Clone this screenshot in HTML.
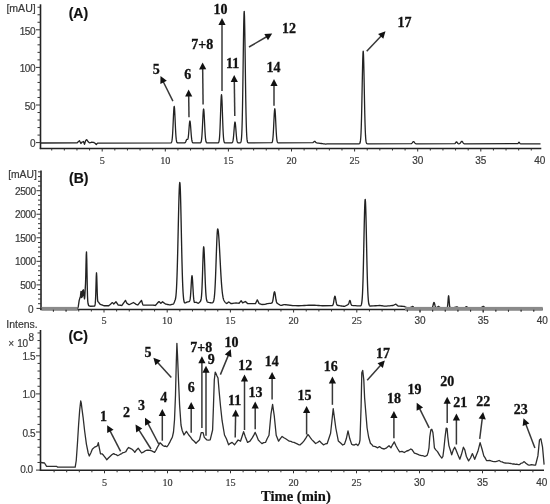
<!DOCTYPE html>
<html><head><meta charset="utf-8"><style>
html,body{margin:0;padding:0;background:#fff;width:550px;height:504px;overflow:hidden}
svg{display:block;filter:blur(0.35px)}
</style></head><body>
<svg width="550" height="504" viewBox="0 0 550 504">
<rect width="550" height="504" fill="#fff"/>
<line x1="40.5" y1="4.3" x2="40.5" y2="149.1" stroke="#222" stroke-width="1.6"/>
<line x1="39.8" y1="148.5" x2="541.3" y2="148.5" stroke="#222" stroke-width="1.5"/>
<line x1="37.5" y1="135.08" x2="40.5" y2="135.08" stroke="#333" stroke-width="1.0"/>
<line x1="37.5" y1="127.56" x2="40.5" y2="127.56" stroke="#333" stroke-width="1.0"/>
<line x1="37.5" y1="120.04" x2="40.5" y2="120.04" stroke="#333" stroke-width="1.0"/>
<line x1="37.5" y1="112.52" x2="40.5" y2="112.52" stroke="#333" stroke-width="1.0"/>
<line x1="37.5" y1="97.48" x2="40.5" y2="97.48" stroke="#333" stroke-width="1.0"/>
<line x1="37.5" y1="89.96" x2="40.5" y2="89.96" stroke="#333" stroke-width="1.0"/>
<line x1="37.5" y1="82.44" x2="40.5" y2="82.44" stroke="#333" stroke-width="1.0"/>
<line x1="37.5" y1="74.92" x2="40.5" y2="74.92" stroke="#333" stroke-width="1.0"/>
<line x1="37.5" y1="59.88" x2="40.5" y2="59.88" stroke="#333" stroke-width="1.0"/>
<line x1="37.5" y1="52.36" x2="40.5" y2="52.36" stroke="#333" stroke-width="1.0"/>
<line x1="37.5" y1="44.84" x2="40.5" y2="44.84" stroke="#333" stroke-width="1.0"/>
<line x1="37.5" y1="37.32" x2="40.5" y2="37.32" stroke="#333" stroke-width="1.0"/>
<line x1="37.5" y1="22.28" x2="40.5" y2="22.28" stroke="#333" stroke-width="1.0"/>
<line x1="37.5" y1="14.76" x2="40.5" y2="14.76" stroke="#333" stroke-width="1.0"/>
<line x1="37.5" y1="7.24" x2="40.5" y2="7.24" stroke="#333" stroke-width="1.0"/>
<line x1="36" y1="142.6" x2="40.5" y2="142.6" stroke="#333" stroke-width="1.0"/>
<line x1="36" y1="105" x2="40.5" y2="105" stroke="#333" stroke-width="1.0"/>
<line x1="36" y1="67.4" x2="40.5" y2="67.4" stroke="#333" stroke-width="1.0"/>
<line x1="36" y1="29.8" x2="40.5" y2="29.8" stroke="#333" stroke-width="1.0"/>
<text x="35" y="147.4" font-family="&quot;Liberation Sans&quot;, sans-serif" font-size="10" font-weight="normal" text-anchor="end" fill="#3a3a3a" stroke="#3a3a3a" stroke-width="0.2" letter-spacing="-0.45">0</text>
<text x="35" y="109.8" font-family="&quot;Liberation Sans&quot;, sans-serif" font-size="10" font-weight="normal" text-anchor="end" fill="#3a3a3a" stroke="#3a3a3a" stroke-width="0.2" letter-spacing="-0.45">50</text>
<text x="35" y="72.2" font-family="&quot;Liberation Sans&quot;, sans-serif" font-size="10" font-weight="normal" text-anchor="end" fill="#3a3a3a" stroke="#3a3a3a" stroke-width="0.2" letter-spacing="-0.45">100</text>
<text x="35" y="34.6" font-family="&quot;Liberation Sans&quot;, sans-serif" font-size="10" font-weight="normal" text-anchor="end" fill="#3a3a3a" stroke="#3a3a3a" stroke-width="0.2" letter-spacing="-0.45">150</text>
<line x1="51.72" y1="148.5" x2="51.72" y2="150.5" stroke="#333" stroke-width="1.0"/>
<line x1="64.34" y1="148.5" x2="64.34" y2="150.5" stroke="#333" stroke-width="1.0"/>
<line x1="76.96" y1="148.5" x2="76.96" y2="150.5" stroke="#333" stroke-width="1.0"/>
<line x1="89.58" y1="148.5" x2="89.58" y2="150.5" stroke="#333" stroke-width="1.0"/>
<line x1="102.2" y1="148.5" x2="102.2" y2="151.5" stroke="#333" stroke-width="1.0"/>
<line x1="114.82" y1="148.5" x2="114.82" y2="150.5" stroke="#333" stroke-width="1.0"/>
<line x1="127.44" y1="148.5" x2="127.44" y2="150.5" stroke="#333" stroke-width="1.0"/>
<line x1="140.06" y1="148.5" x2="140.06" y2="150.5" stroke="#333" stroke-width="1.0"/>
<line x1="152.68" y1="148.5" x2="152.68" y2="150.5" stroke="#333" stroke-width="1.0"/>
<line x1="165.3" y1="148.5" x2="165.3" y2="151.5" stroke="#333" stroke-width="1.0"/>
<line x1="177.92" y1="148.5" x2="177.92" y2="150.5" stroke="#333" stroke-width="1.0"/>
<line x1="190.54" y1="148.5" x2="190.54" y2="150.5" stroke="#333" stroke-width="1.0"/>
<line x1="203.16" y1="148.5" x2="203.16" y2="150.5" stroke="#333" stroke-width="1.0"/>
<line x1="215.78" y1="148.5" x2="215.78" y2="150.5" stroke="#333" stroke-width="1.0"/>
<line x1="228.4" y1="148.5" x2="228.4" y2="151.5" stroke="#333" stroke-width="1.0"/>
<line x1="241.02" y1="148.5" x2="241.02" y2="150.5" stroke="#333" stroke-width="1.0"/>
<line x1="253.64" y1="148.5" x2="253.64" y2="150.5" stroke="#333" stroke-width="1.0"/>
<line x1="266.26" y1="148.5" x2="266.26" y2="150.5" stroke="#333" stroke-width="1.0"/>
<line x1="278.88" y1="148.5" x2="278.88" y2="150.5" stroke="#333" stroke-width="1.0"/>
<line x1="291.5" y1="148.5" x2="291.5" y2="151.5" stroke="#333" stroke-width="1.0"/>
<line x1="304.12" y1="148.5" x2="304.12" y2="150.5" stroke="#333" stroke-width="1.0"/>
<line x1="316.74" y1="148.5" x2="316.74" y2="150.5" stroke="#333" stroke-width="1.0"/>
<line x1="329.36" y1="148.5" x2="329.36" y2="150.5" stroke="#333" stroke-width="1.0"/>
<line x1="341.98" y1="148.5" x2="341.98" y2="150.5" stroke="#333" stroke-width="1.0"/>
<line x1="354.6" y1="148.5" x2="354.6" y2="151.5" stroke="#333" stroke-width="1.0"/>
<line x1="367.22" y1="148.5" x2="367.22" y2="150.5" stroke="#333" stroke-width="1.0"/>
<line x1="379.84" y1="148.5" x2="379.84" y2="150.5" stroke="#333" stroke-width="1.0"/>
<line x1="392.46" y1="148.5" x2="392.46" y2="150.5" stroke="#333" stroke-width="1.0"/>
<line x1="405.08" y1="148.5" x2="405.08" y2="150.5" stroke="#333" stroke-width="1.0"/>
<line x1="417.7" y1="148.5" x2="417.7" y2="151.5" stroke="#333" stroke-width="1.0"/>
<line x1="430.32" y1="148.5" x2="430.32" y2="150.5" stroke="#333" stroke-width="1.0"/>
<line x1="442.94" y1="148.5" x2="442.94" y2="150.5" stroke="#333" stroke-width="1.0"/>
<line x1="455.56" y1="148.5" x2="455.56" y2="150.5" stroke="#333" stroke-width="1.0"/>
<line x1="468.18" y1="148.5" x2="468.18" y2="150.5" stroke="#333" stroke-width="1.0"/>
<line x1="480.8" y1="148.5" x2="480.8" y2="151.5" stroke="#333" stroke-width="1.0"/>
<line x1="493.42" y1="148.5" x2="493.42" y2="150.5" stroke="#333" stroke-width="1.0"/>
<line x1="506.04" y1="148.5" x2="506.04" y2="150.5" stroke="#333" stroke-width="1.0"/>
<line x1="518.66" y1="148.5" x2="518.66" y2="150.5" stroke="#333" stroke-width="1.0"/>
<line x1="531.28" y1="148.5" x2="531.28" y2="150.5" stroke="#333" stroke-width="1.0"/>
<text x="102.2" y="163.7" font-family="&quot;Liberation Serif&quot;, sans-serif" font-size="10.2" font-weight="normal" text-anchor="middle" fill="#3a3a3a" stroke="#3a3a3a" stroke-width="0.2" >5</text>
<text x="165.3" y="163.7" font-family="&quot;Liberation Serif&quot;, sans-serif" font-size="10.2" font-weight="normal" text-anchor="middle" fill="#3a3a3a" stroke="#3a3a3a" stroke-width="0.2" >10</text>
<text x="228.4" y="163.7" font-family="&quot;Liberation Serif&quot;, sans-serif" font-size="10.2" font-weight="normal" text-anchor="middle" fill="#3a3a3a" stroke="#3a3a3a" stroke-width="0.2" >15</text>
<text x="291.5" y="163.7" font-family="&quot;Liberation Serif&quot;, sans-serif" font-size="10.2" font-weight="normal" text-anchor="middle" fill="#3a3a3a" stroke="#3a3a3a" stroke-width="0.2" >20</text>
<text x="354.6" y="163.7" font-family="&quot;Liberation Serif&quot;, sans-serif" font-size="10.2" font-weight="normal" text-anchor="middle" fill="#3a3a3a" stroke="#3a3a3a" stroke-width="0.2" >25</text>
<text x="417.7" y="163.7" font-family="&quot;Liberation Sans&quot;, sans-serif" font-size="10" font-weight="normal" text-anchor="middle" fill="#3a3a3a" stroke="#3a3a3a" stroke-width="0.2" >30</text>
<text x="480.8" y="163.7" font-family="&quot;Liberation Sans&quot;, sans-serif" font-size="10" font-weight="normal" text-anchor="middle" fill="#3a3a3a" stroke="#3a3a3a" stroke-width="0.2" >35</text>
<text x="539.8" y="163.7" font-family="&quot;Liberation Sans&quot;, sans-serif" font-size="10" font-weight="normal" text-anchor="middle" fill="#3a3a3a" stroke="#3a3a3a" stroke-width="0.2" >40</text>
<text x="6.4" y="12.4" font-family="&quot;Liberation Sans&quot;, sans-serif" font-size="10" font-weight="normal" text-anchor="start" fill="#3a3a3a" stroke="#3a3a3a" stroke-width="0.2" textLength="29.3" lengthAdjust="spacingAndGlyphs">[mAU]</text>
<text x="78.4" y="18" font-family="&quot;Liberation Sans&quot;, sans-serif" font-size="14" font-weight="bold" text-anchor="middle" fill="#111" stroke="#111" stroke-width="0.2" >(A)</text>
<path d="M41 143 L77 142.91 L77.25 142.69 L77.5 142.47 L77.75 142.25 L78 142.03 L78.25 141.81 L78.5 141.58 L78.75 141.36 L79 141.14 L79.25 140.92 L79.5 140.7 L79.75 141.22 L80 141.74 L80.25 142.25 L80.5 142.77 L80.75 143.29 L81 143.47 L81.25 143.15 L81.5 142.84 L81.75 142.52 L82 142.2 L82.5 141.97 L83 141.73 L83.5 141.5 L83.75 142.22 L84 142.95 L84.25 143.68 L84.5 144.4 L84.75 143.56 L85 142.72 L85.25 141.88 L85.5 141.04 L85.75 140.55 L86 140.3 L86.25 140.05 L86.5 139.8 L86.75 139.67 L87 140.04 L87.25 140.41 L87.5 140.77 L87.75 141.14 L88 141.51 L88.25 141.84 L88.5 142.04 L88.75 142.23 L89 142.43 L89.25 142.62 L89.5 142.82 L90.25 142.69 L90.75 142.53 L91.25 142.38 L91.75 142.22 L93 142.36 L94 142.5 L94.25 142.68 L94.5 142.87 L94.75 143.05 L95 143.23 L95.25 143.42 L95.5 143.6 L95.75 143.99 L96 144.39 L96.25 144.64 L96.5 144.32 L96.75 144 L97 143.68 L97.25 143.36 L97.75 143.19 L98.25 143.06 L170.75 142.91 L171 142.84 L171.25 142.67 L171.5 142.32 L171.75 141.65 L172 140.45 L172.25 138.5 L172.5 135.57 L172.75 131.53 L173 126.45 L173.25 120.73 L173.5 115.02 L173.75 110.19 L174 107.1 L174.2 106.3 L174.25 106.35 L174.5 108.08 L174.75 111.96 L175 117.24 L175.25 123.06 L175.5 128.59 L175.75 133.28 L176 136.87 L176.25 139.39 L176.5 141.01 L176.75 141.96 L177 142.48 L177.25 142.75 L177.5 142.87 L185 142.75 L185.25 142.54 L185.5 142.21 L185.75 141.73 L186 141.12 L186.25 140.46 L186.5 139.87 L186.75 139.47 L186.9 139.35 L187.5 139.44 L187.75 139.29 L188 138.64 L188.25 137.27 L188.5 135.08 L188.75 132.17 L189 128.83 L189.25 125.54 L189.5 122.84 L189.75 121.27 L189.9 121 L190 121.12 L190.25 122.44 L190.5 124.97 L190.75 128.24 L191 131.72 L191.25 134.96 L191.5 137.64 L191.75 139.66 L192 141.05 L192.25 141.92 L192.5 142.43 L192.75 142.71 L193 142.85 L200.5 142.78 L200.75 142.57 L201 142.15 L201.25 141.36 L201.5 140 L201.75 137.85 L202 134.73 L202.25 130.58 L202.5 125.58 L202.75 120.2 L203 115.14 L203.25 111.23 L203.5 109.19 L203.6 109 L203.75 109.42 L204 111.88 L204.25 116.08 L204.5 121.27 L204.75 126.63 L205 131.49 L205.25 135.43 L205.5 138.35 L205.75 140.32 L206 141.55 L206.25 142.25 L206.5 142.62 L206.75 142.81 L207.5 142.94 L218.25 142.8 L218.5 142.61 L218.75 142.21 L219 141.42 L219.25 140.01 L219.5 137.67 L219.75 134.08 L220 129.04 L220.25 122.6 L220.5 115.16 L220.75 107.54 L221 100.85 L221.25 96.25 L221.5 94.6 L221.75 96.25 L222 100.85 L222.25 107.54 L222.5 115.16 L222.75 122.6 L223 129.04 L223.25 134.08 L223.5 137.67 L223.75 140.01 L224 141.42 L224.25 142.21 L224.5 142.61 L224.75 142.8 L225.5 142.93 L232 142.79 L232.25 142.62 L232.5 142.28 L232.75 141.67 L233 140.65 L233.25 139.1 L233.5 136.92 L233.75 134.13 L234 130.9 L234.25 127.61 L234.5 124.71 L234.75 122.71 L235 122 L235.25 122.71 L235.5 124.71 L235.75 127.6 L236 130.9 L236.25 134.12 L236.5 136.91 L236.75 139.09 L237 140.65 L237.25 141.66 L237.5 142.27 L237.75 142.61 L238 142.79 L238.75 142.92 L240.25 142.82 L240.5 142.66 L240.75 142.33 L241 141.66 L241.25 140.39 L241.5 138.1 L241.75 134.28 L242 128.27 L242.25 119.46 L242.5 107.44 L242.75 92.2 L243 74.42 L243.25 55.51 L243.5 37.53 L243.75 22.85 L244 13.67 L244.2 11.3 L244.25 11.45 L244.5 16.56 L244.75 28.17 L245 44.46 L245.25 63.09 L245.5 81.76 L245.75 98.65 L246 112.64 L246.25 123.36 L246.5 130.97 L246.75 136.03 L247 139.17 L247.25 140.99 L247.5 141.98 L247.75 142.49 L248 142.74 L248.5 142.9 L271.75 142.72 L272 142.47 L272.25 141.98 L272.5 141.09 L272.75 139.59 L273 137.25 L273.25 133.9 L273.5 129.54 L273.75 124.39 L274 118.98 L274.25 114.06 L274.5 110.46 L274.75 108.85 L274.8 108.8 L275 109.55 L275.25 112.42 L275.5 116.91 L275.75 122.22 L276 127.55 L276.25 132.27 L276.5 136.03 L276.75 138.76 L277 140.58 L277.25 141.68 L277.5 142.31 L277.75 142.64 L278 142.79 L312.75 142.71 L313 142.57 L313.25 142.38 L313.5 142.14 L313.75 141.88 L314 141.62 L314.25 141.42 L314.75 141.32 L315 141.45 L315.25 141.67 L315.5 141.93 L315.75 142.19 L316 142.42 L316.25 142.63 L316.5 142.79 L317 142.97 L317.75 143.1 L318.75 143.22 L320 143.37 L321.25 143.51 L322.5 143.66 L323.5 143.79 L324.5 143.91 L325.5 144.04 L327.25 143.91 L359 143.78 L359.5 143.63 L359.75 143.4 L360 142.92 L360.25 142.03 L360.5 140.42 L360.75 137.73 L361 133.5 L361.25 127.31 L361.5 118.84 L361.75 108.12 L362 95.61 L362.25 82.31 L362.5 69.65 L362.75 59.33 L363 52.86 L363.2 51.2 L363.25 51.3 L363.5 54.9 L363.75 63.07 L364 74.53 L364.25 87.64 L364.5 100.78 L364.75 112.66 L365 122.51 L365.25 130.05 L365.5 135.41 L365.75 138.97 L366 141.17 L366.25 142.46 L366.5 143.15 L366.75 143.51 L367 143.69 L367.75 143.81 L411.25 143.66 L411.5 143.54 L411.75 143.35 L412 143.11 L412.25 142.81 L412.5 142.48 L412.75 142.15 L413 141.86 L413.25 141.67 L413.75 141.67 L414 141.86 L414.25 142.15 L414.5 142.48 L414.75 142.82 L415 143.11 L415.25 143.36 L415.5 143.54 L415.75 143.66 L416.25 143.79 L454.75 143.68 L455 143.52 L455.25 143.28 L455.5 142.96 L455.75 142.6 L456 142.25 L456.25 141.99 L456.75 141.99 L457 142.25 L457.25 142.6 L457.5 142.96 L457.75 143.28 L458 143.52 L458.25 143.68 L458.75 143.8 L459.5 143.68 L459.75 143.55 L460 143.35 L460.25 143.09 L460.5 142.76 L460.75 142.39 L461 142 L461.25 141.66 L461.5 141.41 L462 141.35 L462.25 141.55 L462.5 141.86 L462.75 142.23 L463 142.62 L463.25 142.97 L463.5 143.26 L463.75 143.48 L464 143.64 L464.5 143.8 L517.75 143.7 L518 143.47 L518.25 143.12 L518.5 142.7 L518.75 142.34 L519 142.2 L519.25 142.34 L519.5 142.7 L519.75 143.12 L520 143.47 L520.25 143.7 L520.75 143.87 L540.5 143.9" fill="none" stroke="#222" stroke-width="1.3" stroke-linejoin="round" />
<line x1="172.9" y1="101.2" x2="163.16" y2="81.48" stroke="#383838" stroke-width="1.5"/>
<path d="M160.5 76.1 L166.83 80.78 L160.37 83.97 Z" fill="#111"/>
<line x1="189" y1="117.3" x2="188.69" y2="95.5" stroke="#383838" stroke-width="1.5"/>
<path d="M188.6 89.5 L192.3 96.45 L185.1 96.55 Z" fill="#111"/>
<line x1="203.1" y1="104.4" x2="202.67" y2="68.4" stroke="#383838" stroke-width="1.5"/>
<path d="M202.6 62.4 L206.28 69.36 L199.08 69.44 Z" fill="#111"/>
<line x1="222" y1="91" x2="222" y2="23.9" stroke="#383838" stroke-width="1.5"/>
<path d="M222 17.9 L225.6 24.9 L218.4 24.9 Z" fill="#111"/>
<line x1="234.8" y1="116" x2="234.29" y2="81" stroke="#383838" stroke-width="1.5"/>
<path d="M234.2 75 L237.9 81.95 L230.7 82.05 Z" fill="#111"/>
<line x1="249" y1="47" x2="267.01" y2="36.52" stroke="#383838" stroke-width="1.5"/>
<path d="M272.2 33.5 L267.96 40.13 L264.34 33.91 Z" fill="#111"/>
<line x1="274" y1="105.7" x2="274" y2="84.9" stroke="#383838" stroke-width="1.5"/>
<path d="M274 78.9 L277.6 85.9 L270.4 85.9 Z" fill="#111"/>
<line x1="366.7" y1="51.2" x2="381.38" y2="35.66" stroke="#383838" stroke-width="1.5"/>
<path d="M385.5 31.3 L383.31 38.86 L378.08 33.92 Z" fill="#111"/>
<text transform="translate(156.3 73.6) scale(1 1.07)" font-family="&quot;Liberation Serif&quot;, serif" font-size="14" font-weight="bold" text-anchor="middle" fill="#111" stroke="#111" stroke-width="0.3">5</text>
<text transform="translate(187.7 78.5) scale(1 1.07)" font-family="&quot;Liberation Serif&quot;, serif" font-size="14" font-weight="bold" text-anchor="middle" fill="#111" stroke="#111" stroke-width="0.3">6</text>
<text transform="translate(202.2 49.3) scale(1 1.07)" font-family="&quot;Liberation Serif&quot;, serif" font-size="14" font-weight="bold" text-anchor="middle" fill="#111" stroke="#111" stroke-width="0.3">7+8</text>
<text transform="translate(220.6 14) scale(1 1.07)" font-family="&quot;Liberation Serif&quot;, serif" font-size="14" font-weight="bold" text-anchor="middle" fill="#111" stroke="#111" stroke-width="0.3">10</text>
<text transform="translate(232.6 68.4) scale(1 1.07)" font-family="&quot;Liberation Serif&quot;, serif" font-size="14" font-weight="bold" text-anchor="middle" fill="#111" stroke="#111" stroke-width="0.3">11</text>
<text transform="translate(288.9 33.3) scale(1 1.07)" font-family="&quot;Liberation Serif&quot;, serif" font-size="14" font-weight="bold" text-anchor="middle" fill="#111" stroke="#111" stroke-width="0.3">12</text>
<text transform="translate(273.4 71.7) scale(1 1.07)" font-family="&quot;Liberation Serif&quot;, serif" font-size="14" font-weight="bold" text-anchor="middle" fill="#111" stroke="#111" stroke-width="0.3">14</text>
<text transform="translate(404.5 27.1) scale(1 1.07)" font-family="&quot;Liberation Serif&quot;, serif" font-size="14" font-weight="bold" text-anchor="middle" fill="#111" stroke="#111" stroke-width="0.3">17</text>
<line x1="41" y1="170.5" x2="41" y2="310.1" stroke="#222" stroke-width="1.6"/>
<line x1="40.3" y1="309.5" x2="542.7" y2="309.5" stroke="#222" stroke-width="1.5"/>
<line x1="38" y1="303.69" x2="41" y2="303.69" stroke="#333" stroke-width="1.0"/>
<line x1="38" y1="298.98" x2="41" y2="298.98" stroke="#333" stroke-width="1.0"/>
<line x1="38" y1="294.28" x2="41" y2="294.28" stroke="#333" stroke-width="1.0"/>
<line x1="38" y1="289.57" x2="41" y2="289.57" stroke="#333" stroke-width="1.0"/>
<line x1="38" y1="280.15" x2="41" y2="280.15" stroke="#333" stroke-width="1.0"/>
<line x1="38" y1="275.44" x2="41" y2="275.44" stroke="#333" stroke-width="1.0"/>
<line x1="38" y1="270.74" x2="41" y2="270.74" stroke="#333" stroke-width="1.0"/>
<line x1="38" y1="266.03" x2="41" y2="266.03" stroke="#333" stroke-width="1.0"/>
<line x1="38" y1="256.61" x2="41" y2="256.61" stroke="#333" stroke-width="1.0"/>
<line x1="38" y1="251.9" x2="41" y2="251.9" stroke="#333" stroke-width="1.0"/>
<line x1="38" y1="247.2" x2="41" y2="247.2" stroke="#333" stroke-width="1.0"/>
<line x1="38" y1="242.49" x2="41" y2="242.49" stroke="#333" stroke-width="1.0"/>
<line x1="38" y1="233.07" x2="41" y2="233.07" stroke="#333" stroke-width="1.0"/>
<line x1="38" y1="228.36" x2="41" y2="228.36" stroke="#333" stroke-width="1.0"/>
<line x1="38" y1="223.66" x2="41" y2="223.66" stroke="#333" stroke-width="1.0"/>
<line x1="38" y1="218.95" x2="41" y2="218.95" stroke="#333" stroke-width="1.0"/>
<line x1="38" y1="209.53" x2="41" y2="209.53" stroke="#333" stroke-width="1.0"/>
<line x1="38" y1="204.82" x2="41" y2="204.82" stroke="#333" stroke-width="1.0"/>
<line x1="38" y1="200.12" x2="41" y2="200.12" stroke="#333" stroke-width="1.0"/>
<line x1="38" y1="195.41" x2="41" y2="195.41" stroke="#333" stroke-width="1.0"/>
<line x1="38" y1="185.99" x2="41" y2="185.99" stroke="#333" stroke-width="1.0"/>
<line x1="38" y1="181.28" x2="41" y2="181.28" stroke="#333" stroke-width="1.0"/>
<line x1="38" y1="176.58" x2="41" y2="176.58" stroke="#333" stroke-width="1.0"/>
<line x1="38" y1="171.87" x2="41" y2="171.87" stroke="#333" stroke-width="1.0"/>
<line x1="36.5" y1="308.4" x2="41" y2="308.4" stroke="#333" stroke-width="1.0"/>
<line x1="36.5" y1="284.86" x2="41" y2="284.86" stroke="#333" stroke-width="1.0"/>
<line x1="36.5" y1="261.32" x2="41" y2="261.32" stroke="#333" stroke-width="1.0"/>
<line x1="36.5" y1="237.78" x2="41" y2="237.78" stroke="#333" stroke-width="1.0"/>
<line x1="36.5" y1="214.24" x2="41" y2="214.24" stroke="#333" stroke-width="1.0"/>
<line x1="36.5" y1="190.7" x2="41" y2="190.7" stroke="#333" stroke-width="1.0"/>
<text x="33" y="312.8" font-family="&quot;Liberation Sans&quot;, sans-serif" font-size="10" font-weight="normal" text-anchor="end" fill="#3a3a3a" stroke="#3a3a3a" stroke-width="0.2" letter-spacing="-0.45">0</text>
<text x="35.5" y="288.76" font-family="&quot;Liberation Sans&quot;, sans-serif" font-size="10" font-weight="normal" text-anchor="end" fill="#3a3a3a" stroke="#3a3a3a" stroke-width="0.2" letter-spacing="-0.45">500</text>
<text x="35.5" y="265.22" font-family="&quot;Liberation Sans&quot;, sans-serif" font-size="10" font-weight="normal" text-anchor="end" fill="#3a3a3a" stroke="#3a3a3a" stroke-width="0.2" letter-spacing="-0.45">1000</text>
<text x="35.5" y="241.68" font-family="&quot;Liberation Sans&quot;, sans-serif" font-size="10" font-weight="normal" text-anchor="end" fill="#3a3a3a" stroke="#3a3a3a" stroke-width="0.2" letter-spacing="-0.45">1500</text>
<text x="35.5" y="218.14" font-family="&quot;Liberation Sans&quot;, sans-serif" font-size="10" font-weight="normal" text-anchor="end" fill="#3a3a3a" stroke="#3a3a3a" stroke-width="0.2" letter-spacing="-0.45">2000</text>
<text x="35.5" y="194.6" font-family="&quot;Liberation Sans&quot;, sans-serif" font-size="10" font-weight="normal" text-anchor="end" fill="#3a3a3a" stroke="#3a3a3a" stroke-width="0.2" letter-spacing="-0.45">2500</text>
<line x1="53.44" y1="309.5" x2="53.44" y2="311.5" stroke="#333" stroke-width="1.0"/>
<line x1="66.08" y1="309.5" x2="66.08" y2="311.5" stroke="#333" stroke-width="1.0"/>
<line x1="78.72" y1="309.5" x2="78.72" y2="311.5" stroke="#333" stroke-width="1.0"/>
<line x1="91.36" y1="309.5" x2="91.36" y2="311.5" stroke="#333" stroke-width="1.0"/>
<line x1="104" y1="309.5" x2="104" y2="312.5" stroke="#333" stroke-width="1.0"/>
<line x1="116.64" y1="309.5" x2="116.64" y2="311.5" stroke="#333" stroke-width="1.0"/>
<line x1="129.28" y1="309.5" x2="129.28" y2="311.5" stroke="#333" stroke-width="1.0"/>
<line x1="141.92" y1="309.5" x2="141.92" y2="311.5" stroke="#333" stroke-width="1.0"/>
<line x1="154.56" y1="309.5" x2="154.56" y2="311.5" stroke="#333" stroke-width="1.0"/>
<line x1="167.2" y1="309.5" x2="167.2" y2="312.5" stroke="#333" stroke-width="1.0"/>
<line x1="179.84" y1="309.5" x2="179.84" y2="311.5" stroke="#333" stroke-width="1.0"/>
<line x1="192.48" y1="309.5" x2="192.48" y2="311.5" stroke="#333" stroke-width="1.0"/>
<line x1="205.12" y1="309.5" x2="205.12" y2="311.5" stroke="#333" stroke-width="1.0"/>
<line x1="217.76" y1="309.5" x2="217.76" y2="311.5" stroke="#333" stroke-width="1.0"/>
<line x1="230.4" y1="309.5" x2="230.4" y2="312.5" stroke="#333" stroke-width="1.0"/>
<line x1="243.04" y1="309.5" x2="243.04" y2="311.5" stroke="#333" stroke-width="1.0"/>
<line x1="255.68" y1="309.5" x2="255.68" y2="311.5" stroke="#333" stroke-width="1.0"/>
<line x1="268.32" y1="309.5" x2="268.32" y2="311.5" stroke="#333" stroke-width="1.0"/>
<line x1="280.96" y1="309.5" x2="280.96" y2="311.5" stroke="#333" stroke-width="1.0"/>
<line x1="293.6" y1="309.5" x2="293.6" y2="312.5" stroke="#333" stroke-width="1.0"/>
<line x1="306.24" y1="309.5" x2="306.24" y2="311.5" stroke="#333" stroke-width="1.0"/>
<line x1="318.88" y1="309.5" x2="318.88" y2="311.5" stroke="#333" stroke-width="1.0"/>
<line x1="331.52" y1="309.5" x2="331.52" y2="311.5" stroke="#333" stroke-width="1.0"/>
<line x1="344.16" y1="309.5" x2="344.16" y2="311.5" stroke="#333" stroke-width="1.0"/>
<line x1="356.8" y1="309.5" x2="356.8" y2="312.5" stroke="#333" stroke-width="1.0"/>
<line x1="369.44" y1="309.5" x2="369.44" y2="311.5" stroke="#333" stroke-width="1.0"/>
<line x1="382.08" y1="309.5" x2="382.08" y2="311.5" stroke="#333" stroke-width="1.0"/>
<line x1="394.72" y1="309.5" x2="394.72" y2="311.5" stroke="#333" stroke-width="1.0"/>
<line x1="407.36" y1="309.5" x2="407.36" y2="311.5" stroke="#333" stroke-width="1.0"/>
<line x1="420" y1="309.5" x2="420" y2="312.5" stroke="#333" stroke-width="1.0"/>
<line x1="432.64" y1="309.5" x2="432.64" y2="311.5" stroke="#333" stroke-width="1.0"/>
<line x1="445.28" y1="309.5" x2="445.28" y2="311.5" stroke="#333" stroke-width="1.0"/>
<line x1="457.92" y1="309.5" x2="457.92" y2="311.5" stroke="#333" stroke-width="1.0"/>
<line x1="470.56" y1="309.5" x2="470.56" y2="311.5" stroke="#333" stroke-width="1.0"/>
<line x1="483.2" y1="309.5" x2="483.2" y2="312.5" stroke="#333" stroke-width="1.0"/>
<line x1="495.84" y1="309.5" x2="495.84" y2="311.5" stroke="#333" stroke-width="1.0"/>
<line x1="508.48" y1="309.5" x2="508.48" y2="311.5" stroke="#333" stroke-width="1.0"/>
<line x1="521.12" y1="309.5" x2="521.12" y2="311.5" stroke="#333" stroke-width="1.0"/>
<line x1="533.76" y1="309.5" x2="533.76" y2="311.5" stroke="#333" stroke-width="1.0"/>
<text x="104" y="323.7" font-family="&quot;Liberation Serif&quot;, sans-serif" font-size="10.2" font-weight="normal" text-anchor="middle" fill="#3a3a3a" stroke="#3a3a3a" stroke-width="0.2" >5</text>
<text x="167.2" y="323.7" font-family="&quot;Liberation Serif&quot;, sans-serif" font-size="10.2" font-weight="normal" text-anchor="middle" fill="#3a3a3a" stroke="#3a3a3a" stroke-width="0.2" >10</text>
<text x="230.4" y="323.7" font-family="&quot;Liberation Serif&quot;, sans-serif" font-size="10.2" font-weight="normal" text-anchor="middle" fill="#3a3a3a" stroke="#3a3a3a" stroke-width="0.2" >15</text>
<text x="293.6" y="323.7" font-family="&quot;Liberation Serif&quot;, sans-serif" font-size="10.2" font-weight="normal" text-anchor="middle" fill="#3a3a3a" stroke="#3a3a3a" stroke-width="0.2" >20</text>
<text x="356.8" y="323.7" font-family="&quot;Liberation Serif&quot;, sans-serif" font-size="10.2" font-weight="normal" text-anchor="middle" fill="#3a3a3a" stroke="#3a3a3a" stroke-width="0.2" >25</text>
<text x="420" y="323.7" font-family="&quot;Liberation Sans&quot;, sans-serif" font-size="10" font-weight="normal" text-anchor="middle" fill="#3a3a3a" stroke="#3a3a3a" stroke-width="0.2" >30</text>
<text x="483.2" y="323.7" font-family="&quot;Liberation Sans&quot;, sans-serif" font-size="10" font-weight="normal" text-anchor="middle" fill="#3a3a3a" stroke="#3a3a3a" stroke-width="0.2" >35</text>
<text x="542.3" y="323.7" font-family="&quot;Liberation Sans&quot;, sans-serif" font-size="10" font-weight="normal" text-anchor="middle" fill="#3a3a3a" stroke="#3a3a3a" stroke-width="0.2" >40</text>
<text x="8.2" y="178.3" font-family="&quot;Liberation Sans&quot;, sans-serif" font-size="10" font-weight="normal" text-anchor="start" fill="#3a3a3a" stroke="#3a3a3a" stroke-width="0.2" textLength="28.6" lengthAdjust="spacingAndGlyphs">[mAU]</text>
<text x="78.7" y="183.3" font-family="&quot;Liberation Sans&quot;, sans-serif" font-size="14" font-weight="bold" text-anchor="middle" fill="#111" stroke="#111" stroke-width="0.2" >(B)</text>
<path d="M41 308.6 L77.25 308.6 L77.5 308.4 L77.75 307.9 L78 307.4 L78.25 306.67 L78.5 304.99 L78.75 303.31 L79 301.64 L79.25 300.14 L79.5 299.35 L79.75 298.56 L80 297.77 L80.25 296.98 L80.5 295.64 L80.75 293.5 L81 291.36 L81.25 293.13 L81.5 297.5 L81.75 292.5 L82 291.62 L82.25 296.94 L82.5 293.65 L82.75 290.32 L83 295.45 L83.25 294.61 L83.5 289.8 L83.75 293.36 L84 296.07 L84.25 297.5 L84.5 298.91 L84.75 297.27 L85 293.32 L85.25 288.37 L85.5 283.96 L85.75 276.18 L86 264.52 L86.25 254.88 L86.5 251.9 L86.75 258.79 L87 272.33 L87.25 286.13 L87.5 296.03 L87.75 301.1 L88 303.23 L88.25 304.36 L88.5 305.19 L88.75 305.57 L89.25 305.8 L89.75 306.04 L90.25 306.2 L94.5 306.19 L94.75 305.8 L95 304.98 L95.25 303.42 L95.5 300.07 L95.75 293.95 L96 285.16 L96.25 276.55 L96.5 272.8 L96.75 276.27 L97 284.6 L97.25 293.12 L97.5 298.71 L97.75 301.18 L98 301.86 L98.25 301.8 L98.5 302.08 L98.75 302.46 L99 302.83 L99.25 303.19 L99.5 303.56 L99.75 303.93 L100 304.09 L100.5 304.33 L101 304.56 L101.5 304.78 L102 304.97 L102.5 305.16 L103 305.34 L103.5 305.53 L104 305.72 L108.75 305.76 L109 305.53 L109.25 305.31 L109.5 305.09 L109.75 304.86 L110 304.64 L110.25 304.42 L110.5 304.19 L110.75 303.97 L111 303.75 L111.25 303.53 L111.5 303.3 L111.75 303.08 L112 302.86 L112.25 302.63 L112.5 302.61 L112.75 302.88 L113 303.14 L113.25 303.41 L113.5 303.68 L113.75 303.95 L114 303.8 L114.25 303.55 L114.5 303.3 L114.75 303.05 L115 302.8 L115.25 302.55 L115.5 302.3 L115.75 302.05 L116 301.8 L116.25 302.16 L116.5 302.53 L116.75 302.89 L117 303.25 L117.25 303.62 L117.5 303.98 L117.75 304.35 L118 304.71 L118.25 305.01 L119.25 305.15 L120.25 305.28 L121.25 305.42 L121.75 305.49 L122 305.22 L122.25 304.88 L122.5 304.54 L122.75 304.19 L123 303.85 L123.25 303.5 L123.5 303.16 L123.75 302.81 L124 302.47 L124.25 302.12 L124.5 301.78 L124.75 301.43 L125 301.09 L125.25 300.74 L125.5 300.4 L125.75 300.92 L126 301.44 L126.25 301.95 L126.5 302.47 L126.75 302.99 L127 303.36 L127.25 303.52 L127.5 303.68 L127.75 303.84 L128 304 L128.25 304.16 L128.5 304.32 L128.75 304.48 L129 304.64 L129.25 304.62 L129.5 304.5 L129.75 304.38 L130 304.25 L130.25 304.12 L130.5 304 L130.75 303.88 L131 303.75 L131.25 303.62 L131.5 303.5 L131.75 303.38 L132 303.25 L132.25 303.12 L132.5 303 L132.75 302.88 L133 302.75 L133.25 302.62 L133.5 302.5 L133.75 302.68 L134 302.86 L134.25 303.04 L134.5 303.21 L134.75 303.39 L135 303.57 L135.25 303.75 L135.5 303.93 L135.75 304.07 L136.25 304.3 L136.75 304.52 L137.25 304.75 L137.75 304.98 L138 304.75 L138.25 304.44 L138.5 304.13 L138.75 303.82 L139 303.51 L139.25 303.2 L139.5 302.89 L139.75 302.58 L140 302.26 L140.25 301.95 L140.5 301.64 L140.75 301.33 L141 301.02 L141.25 300.71 L141.5 300.4 L141.75 301.22 L142 302.04 L142.25 302.86 L142.5 303.69 L142.75 304.51 L143 305 L153.25 305.15 L154 305.28 L154.75 305.41 L155.25 305.49 L155.5 305.28 L155.75 305 L156 304.72 L156.25 304.44 L156.5 304.17 L156.75 303.89 L157 303.61 L157.25 303.33 L157.5 303.06 L157.75 302.78 L158 302.5 L158.25 302.22 L158.5 301.94 L158.75 301.67 L159 301.59 L159.25 301.83 L159.5 302.07 L159.75 302.31 L160 302.54 L160.25 302.78 L160.5 303.02 L160.75 303.25 L161 303.12 L161.25 302.9 L161.5 302.68 L161.75 302.46 L162 302.24 L162.25 302.02 L162.5 301.8 L162.75 301.98 L163 302.17 L163.25 302.35 L163.5 302.53 L163.75 302.72 L164 302.9 L164.25 303.08 L164.5 303.27 L164.75 303.45 L165 303.63 L165.25 303.82 L165.5 304 L166.25 304.17 L167 304.35 L167.75 304.52 L168.5 304.7 L169.25 304.87 L170.75 304.74 L171.25 304.61 L171.75 304.47 L172.25 304.34 L172.75 304.2 L173.25 304.04 L173.5 303.95 L173.75 303.46 L174 302.94 L174.25 302.37 L174.5 301.71 L174.75 300.94 L175 300.25 L175.25 299.7 L175.5 298.79 L175.75 297.37 L176 295.31 L176.25 292.25 L176.5 288.2 L176.75 283.02 L177 276.58 L177.25 268.83 L177.5 259.82 L177.75 249.7 L178 238.77 L178.25 227.42 L178.5 216.2 L178.75 205.69 L179 196.54 L179.25 189.33 L179.5 184.55 L179.75 182.55 L179.8 182.5 L180 183.6 L180.25 187.89 L180.5 195.07 L180.75 204.59 L181 215.75 L181.25 227.79 L181.5 239.98 L181.75 251.67 L182 262.39 L182.25 271.8 L182.5 279.72 L182.75 286.15 L183 291.2 L183.25 295.03 L183.5 297.84 L183.75 299.83 L184 301.21 L184.25 302.12 L184.5 302.71 L184.75 302.91 L185.5 302.85 L185.75 302.72 L186 302.58 L186.25 302.42 L186.5 302.26 L187 302.1 L187.75 301.92 L188.25 301.8 L188.75 301.66 L189 301.57 L189.25 301.42 L189.5 301.16 L189.75 300.72 L190 299.88 L190.25 298.4 L190.5 296.06 L190.75 292.75 L191 288.59 L191.25 284.02 L191.5 279.8 L191.75 276.79 L192 275.7 L192.25 276.79 L192.5 279.8 L192.75 284.02 L193 288.59 L193.25 292.82 L193.5 296.48 L193.75 299.17 L194 301 L194.25 302.11 L194.5 302.45 L195.75 302.33 L196.25 302.27 L196.5 302.4 L196.75 302.52 L197 302.65 L197.25 302.77 L197.5 302.9 L197.75 303.02 L198 303.15 L198.25 303.27 L198.5 303.14 L198.75 302.93 L199 302.73 L199.25 302.52 L199.5 302.31 L199.75 302.09 L200 301.85 L200.25 301.56 L200.5 301.18 L200.75 300.66 L201 299.8 L201.25 298.38 L201.5 296.11 L201.75 292.69 L202 287.93 L202.25 281.81 L202.5 274.41 L202.75 266.32 L203 258.46 L203.25 251.94 L203.5 247.84 L203.7 246.8 L203.75 246.87 L204 248.83 L204.25 253.27 L204.5 259.55 L204.75 266.83 L205 274.29 L205.25 281.22 L205.5 287.14 L205.75 291.85 L206 295.35 L206.25 297.8 L206.5 299.48 L206.75 300.56 L207 301.25 L207.25 301.68 L207.5 301.96 L207.75 302.15 L208.25 302.29 L209 302.45 L209.75 302.59 L210.5 302.73 L211.25 302.86 L212.5 302.72 L212.75 302.58 L213 302.36 L213.25 302 L213.5 301.44 L213.75 300.6 L214 299.38 L214.25 297.67 L214.5 295.33 L214.75 292.24 L215 288.31 L215.25 283.47 L215.5 277.72 L215.75 271.19 L216 264.05 L216.25 256.62 L216.5 249.27 L216.75 242.46 L217 236.66 L217.25 232.28 L217.5 229.67 L217.7 229 L217.75 229.01 L218 229.6 L218.25 231.04 L218.5 233.27 L218.75 236.22 L219 239.78 L219.25 243.86 L219.5 248.31 L219.75 253.01 L220 257.83 L220.25 262.65 L220.5 267.37 L220.75 271.88 L221 276.13 L221.25 280.04 L221.5 283.6 L221.75 286.77 L222 289.55 L222.25 291.95 L222.5 294 L222.75 295.71 L223 297.13 L223.25 298.28 L223.5 299.21 L223.75 299.94 L224 300.51 L224.25 300.94 L224.5 301.27 L224.75 301.69 L225 302.05 L225.25 302.36 L225.5 302.63 L225.75 302.87 L226 303.09 L226.25 303.29 L226.5 303.48 L226.75 303.45 L227 303.27 L227.25 303.08 L227.5 302.9 L227.75 302.71 L228 302.51 L228.25 302.32 L228.5 302.13 L228.75 301.94 L229 302.05 L229.25 302.25 L229.5 302.44 L229.75 302.63 L230 302.83 L230.25 303.02 L230.5 303.21 L230.75 303.41 L231 303.6 L232 303.46 L233 303.33 L234 303.19 L235 303.05 L236 302.91 L237.25 303.06 L238.25 303.2 L239 303.3 L239.25 303 L239.5 302.71 L239.75 302.41 L240 302.12 L240.25 301.82 L240.5 301.53 L240.75 301.23 L241 300.94 L241.25 300.78 L241.5 301.17 L241.75 301.56 L242 301.96 L242.25 302.35 L242.5 302.74 L242.75 302.83 L243 302.71 L243.25 302.59 L243.5 302.47 L243.75 302.34 L244 302.22 L244.25 302.1 L244.5 301.98 L244.75 301.86 L245 301.74 L245.25 301.62 L245.5 301.5 L245.75 301.74 L246 301.98 L246.25 302.22 L246.5 302.45 L246.75 302.69 L247 302.93 L247.25 303.17 L247.5 303.41 L247.75 303.6 L255.5 303.6 L255.75 303.07 L256 302.54 L256.25 302.02 L256.5 301.49 L256.75 300.96 L257 300.43 L257.25 299.91 L257.5 300.22 L257.75 300.75 L258 301.28 L258.25 301.81 L258.5 302.33 L258.75 302.86 L259 303.39 L259.25 303.65 L259.75 303.82 L260.25 303.98 L260.75 304.15 L261.25 304.32 L261.75 304.48 L265 304.34 L265.5 304.18 L266 304.02 L266.5 303.86 L267 303.7 L267.75 303.56 L269.25 303.44 L270.75 303.3 L271.5 303.2 L271.75 303.07 L272 302.84 L272.25 302.43 L272.5 301.79 L272.75 300.86 L273 299.61 L273.25 298.07 L273.5 296.34 L273.75 294.63 L274 293.15 L274.25 292.15 L274.5 291.8 L274.75 292.17 L275 293.19 L275.25 294.69 L275.5 296.43 L275.75 298.18 L276 299.74 L276.25 301.02 L276.5 301.97 L276.75 302.63 L277 303.06 L277.25 303.32 L277.5 303.47 L277.75 303.63 L278 303.8 L278.25 303.96 L278.5 304.11 L278.75 304.26 L279 304.41 L279.25 304.55 L279.5 304.69 L279.75 304.84 L280 304.98 L280.25 305.13 L280.5 305.27 L280.75 305.41 L281.75 305.26 L282.25 305.12 L282.75 304.99 L283.25 304.85 L283.75 304.71 L284.25 304.57 L286 304.71 L287 304.84 L288 304.98 L289 305.12 L290 305.25 L291 305.39 L292.25 305.52 L295.25 305.64 L298.25 305.77 L302 305.64 L304.25 305.52 L306.5 305.39 L308.75 305.27 L311 305.14 L314.5 305.27 L316.5 305.4 L318.5 305.53 L320.5 305.66 L322.5 305.79 L332.25 305.66 L332.5 305.5 L332.75 305.21 L333 304.73 L333.25 303.97 L333.5 302.9 L333.75 301.53 L334 299.96 L334.25 298.4 L334.5 297.11 L334.75 296.34 L334.9 296.2 L335 296.25 L335.25 296.87 L335.5 298.06 L335.75 299.56 L336 301.12 L336.25 302.52 L336.5 303.63 L336.75 304.42 L337 304.93 L337.25 305.23 L337.5 305.39 L338.5 305.54 L339.5 305.69 L340.5 305.83 L341.5 305.97 L342.5 306.11 L343.5 306.26 L344.5 306.4 L344.75 306.27 L345 306.14 L345.25 306.01 L345.5 305.89 L345.75 305.76 L346 305.63 L346.25 305.5 L346.5 305.37 L346.75 305.24 L347 305.12 L347.25 304.98 L347.5 304.85 L347.75 304.69 L348 304.49 L348.25 304.23 L348.5 303.96 L348.75 303.47 L349 302.72 L349.25 301.82 L349.5 300.98 L349.75 300.46 L350 300.47 L350.25 301.03 L350.5 301.96 L350.75 303 L351 303.91 L351.25 304.59 L351.5 305.03 L351.75 305.3 L352 305.45 L353.25 305.58 L355.25 305.7 L357.25 305.83 L359.25 305.95 L360.5 305.85 L360.75 305.7 L361 305.43 L361.25 304.96 L361.5 304.16 L361.75 302.87 L362 300.86 L362.25 297.9 L362.5 293.69 L362.75 287.97 L363 280.56 L363.25 271.41 L363.5 260.68 L363.75 248.78 L364 236.39 L364.25 224.38 L364.5 213.79 L364.75 205.6 L365 200.65 L365.2 199.4 L365.25 199.48 L365.5 202.21 L365.75 208.54 L366 217.81 L366.25 229.09 L366.5 241.38 L366.75 253.67 L367 265.18 L367.25 275.31 L367.5 283.78 L367.75 290.5 L368 295.59 L368.25 299.28 L368.5 301.83 L368.75 303.52 L369 304.6 L369.25 305.26 L369.5 305.65 L369.75 305.86 L370.25 306.03 L373.25 305.9 L375.5 305.77 L377.75 305.63 L379.75 305.51 L381 305.64 L382 305.78 L383 305.92 L384 306.06 L385 306.2 L386.5 306.07 L388 305.94 L389.5 305.81 L391 305.68 L392.5 305.54 L393 305.5 L393.25 305.38 L393.5 305.25 L393.75 305.12 L394 305 L394.25 304.88 L394.5 304.75 L394.75 304.62 L395 304.5 L395.25 304.38 L395.5 304.25 L395.75 304.12 L396 304.27 L396.25 304.49 L396.5 304.7 L396.75 304.92 L397 305.14 L397.25 305.35 L397.5 305.57 L397.75 305.78 L398 306 L399.75 306.13 L401.5 306.27 L403.25 306.4 L404.5 306.5 L404.75 306.63 L405 306.76 L405.25 306.89 L405.5 307.01 L405.75 307.14 L406 307.27 L406.25 307.4 L406.5 307.53 L406.75 307.66 L407 307.79 L407.25 307.91 L407.5 308.04 L407.75 308.17 L408 308.3 L408.5 308.13 L409 307.97 L409.5 307.8 L410 307.63 L410.5 307.47 L411 307.3 L411.25 307.17 L411.5 307.04 L411.75 306.9 L412 306.77 L412.25 306.64 L412.5 306.51 L412.75 306.44 L413 306.65 L413.25 306.85 L413.5 307.06 L413.75 307.27 L414 307.47 L414.25 307.68 L414.5 307.89 L414.75 308.09 L415 308.3 L421 308.42 L431.75 308.23 L432 308.07 L432.25 307.77 L432.5 307.29 L432.75 306.56 L433 305.6 L433.25 304.51 L433.5 303.46 L433.75 302.69 L434 302.4 L434.25 302.65 L434.5 303.38 L434.75 304.39 L435 305.44 L435.25 306.36 L435.5 307.05 L435.75 307.49 L436 307.75 L436.5 307.64 L436.75 307.5 L437 307.35 L437.25 307.2 L437.5 307.04 L437.75 306.88 L438 306.72 L438.25 306.56 L438.5 306.4 L438.75 306.59 L439 306.78 L439.25 306.97 L439.5 307.16 L439.75 307.35 L440 307.54 L440.25 307.73 L440.5 307.92 L440.75 308.11 L441 308.3 L446.75 308.36 L447 308.22 L447.25 307.78 L447.5 306.69 L447.75 304.58 L448 301.45 L448.25 298.11 L448.5 296.01 L448.6 295.8 L448.75 296.26 L449 298.73 L449.25 302.13 L449.5 305.1 L449.75 306.98 L450 307.91 L450.25 308.26 L450.75 308.39 L451.5 308.27 L452 308.13 L452.5 308 L453 307.87 L453.5 307.73 L454 307.6 L454.5 307.47 L455 307.33 L455.5 307.2 L456 307.07 L456.5 306.93 L457 306.8 L457.25 307 L457.5 307.2 L457.75 307.4 L458 307.6 L458.25 307.8 L458.5 308 L458.75 308.2 L459 308.4 L464 308.4 L464.25 308.2 L464.5 308 L464.75 307.81 L465 307.61 L465.25 307.41 L465.5 307.21 L465.75 307.01 L466 306.82 L466.25 306.62 L466.5 306.57 L466.75 306.76 L467 306.94 L467.25 307.12 L467.5 307.3 L467.75 307.49 L468 307.67 L468.25 307.85 L468.5 308.03 L468.75 308.22 L469 308.4 L480 308.4 L480.25 308.24 L480.5 308.08 L480.75 307.92 L481 307.76 L481.25 307.6 L481.5 307.45 L481.75 307.29 L482 307.13 L482.25 306.97 L482.5 306.81 L482.75 306.65 L483 306.49 L483.25 306.33 L483.5 306.46 L483.75 306.65 L484 306.84 L484.25 307.04 L484.5 307.23 L484.75 307.43 L485 307.62 L485.25 307.82 L485.5 308.01 L485.75 308.21 L486 308.4 L542.5 308.5" fill="none" stroke="#222" stroke-width="1.35" stroke-linejoin="round" />
<rect x="41.6" y="306.9" width="36" height="3.7" fill="#8a8a8a"/>
<rect x="405" y="306.9" width="137.7" height="3.7" fill="#8a8a8a"/>
<line x1="53.44" y1="309.8" x2="53.44" y2="311.6" stroke="#333" stroke-width="1.1"/>
<line x1="66.08" y1="309.8" x2="66.08" y2="311.6" stroke="#333" stroke-width="1.1"/>
<line x1="407.36" y1="309.8" x2="407.36" y2="311.6" stroke="#333" stroke-width="1.1"/>
<line x1="420" y1="309.8" x2="420" y2="312.3" stroke="#333" stroke-width="1.1"/>
<line x1="432.64" y1="309.8" x2="432.64" y2="311.6" stroke="#333" stroke-width="1.1"/>
<line x1="445.28" y1="309.8" x2="445.28" y2="311.6" stroke="#333" stroke-width="1.1"/>
<line x1="457.92" y1="309.8" x2="457.92" y2="311.6" stroke="#333" stroke-width="1.1"/>
<line x1="470.56" y1="309.8" x2="470.56" y2="311.6" stroke="#333" stroke-width="1.1"/>
<line x1="483.2" y1="309.8" x2="483.2" y2="312.3" stroke="#333" stroke-width="1.1"/>
<line x1="495.84" y1="309.8" x2="495.84" y2="311.6" stroke="#333" stroke-width="1.1"/>
<line x1="508.48" y1="309.8" x2="508.48" y2="311.6" stroke="#333" stroke-width="1.1"/>
<line x1="521.12" y1="309.8" x2="521.12" y2="311.6" stroke="#333" stroke-width="1.1"/>
<line x1="533.76" y1="309.8" x2="533.76" y2="311.6" stroke="#333" stroke-width="1.1"/>
<line x1="40.5" y1="330" x2="40.5" y2="470.9" stroke="#222" stroke-width="1.6"/>
<line x1="39.8" y1="470.3" x2="544" y2="470.3" stroke="#222" stroke-width="1.5"/>
<line x1="37.5" y1="462.48" x2="40.5" y2="462.48" stroke="#333" stroke-width="1.0"/>
<line x1="37.5" y1="454.86" x2="40.5" y2="454.86" stroke="#333" stroke-width="1.0"/>
<line x1="37.5" y1="447.24" x2="40.5" y2="447.24" stroke="#333" stroke-width="1.0"/>
<line x1="37.5" y1="439.62" x2="40.5" y2="439.62" stroke="#333" stroke-width="1.0"/>
<line x1="37.5" y1="424.38" x2="40.5" y2="424.38" stroke="#333" stroke-width="1.0"/>
<line x1="37.5" y1="416.76" x2="40.5" y2="416.76" stroke="#333" stroke-width="1.0"/>
<line x1="37.5" y1="409.14" x2="40.5" y2="409.14" stroke="#333" stroke-width="1.0"/>
<line x1="37.5" y1="401.52" x2="40.5" y2="401.52" stroke="#333" stroke-width="1.0"/>
<line x1="37.5" y1="386.28" x2="40.5" y2="386.28" stroke="#333" stroke-width="1.0"/>
<line x1="37.5" y1="378.66" x2="40.5" y2="378.66" stroke="#333" stroke-width="1.0"/>
<line x1="37.5" y1="371.04" x2="40.5" y2="371.04" stroke="#333" stroke-width="1.0"/>
<line x1="37.5" y1="363.42" x2="40.5" y2="363.42" stroke="#333" stroke-width="1.0"/>
<line x1="37.5" y1="348.18" x2="40.5" y2="348.18" stroke="#333" stroke-width="1.0"/>
<line x1="37.5" y1="340.56" x2="40.5" y2="340.56" stroke="#333" stroke-width="1.0"/>
<line x1="37.5" y1="332.94" x2="40.5" y2="332.94" stroke="#333" stroke-width="1.0"/>
<line x1="36" y1="470.1" x2="40.5" y2="470.1" stroke="#333" stroke-width="1.0"/>
<line x1="36" y1="432" x2="40.5" y2="432" stroke="#333" stroke-width="1.0"/>
<line x1="36" y1="393.9" x2="40.5" y2="393.9" stroke="#333" stroke-width="1.0"/>
<line x1="36" y1="355.8" x2="40.5" y2="355.8" stroke="#333" stroke-width="1.0"/>
<text x="32.7" y="473.4" font-family="&quot;Liberation Sans&quot;, sans-serif" font-size="10" font-weight="normal" text-anchor="end" fill="#3a3a3a" stroke="#3a3a3a" stroke-width="0.2" letter-spacing="-0.45">0.0</text>
<text x="35" y="436.5" font-family="&quot;Liberation Sans&quot;, sans-serif" font-size="10" font-weight="normal" text-anchor="end" fill="#3a3a3a" stroke="#3a3a3a" stroke-width="0.2" letter-spacing="-0.45">0.5</text>
<text x="35" y="398.4" font-family="&quot;Liberation Sans&quot;, sans-serif" font-size="10" font-weight="normal" text-anchor="end" fill="#3a3a3a" stroke="#3a3a3a" stroke-width="0.2" letter-spacing="-0.45">1.0</text>
<text x="35" y="360.3" font-family="&quot;Liberation Sans&quot;, sans-serif" font-size="10" font-weight="normal" text-anchor="end" fill="#3a3a3a" stroke="#3a3a3a" stroke-width="0.2" letter-spacing="-0.45">1.5</text>
<line x1="54.1" y1="470.3" x2="54.1" y2="472.3" stroke="#333" stroke-width="1.0"/>
<line x1="66.7" y1="470.3" x2="66.7" y2="472.3" stroke="#333" stroke-width="1.0"/>
<line x1="79.3" y1="470.3" x2="79.3" y2="472.3" stroke="#333" stroke-width="1.0"/>
<line x1="91.9" y1="470.3" x2="91.9" y2="472.3" stroke="#333" stroke-width="1.0"/>
<line x1="104.5" y1="470.3" x2="104.5" y2="473.3" stroke="#333" stroke-width="1.0"/>
<line x1="117.1" y1="470.3" x2="117.1" y2="472.3" stroke="#333" stroke-width="1.0"/>
<line x1="129.7" y1="470.3" x2="129.7" y2="472.3" stroke="#333" stroke-width="1.0"/>
<line x1="142.3" y1="470.3" x2="142.3" y2="472.3" stroke="#333" stroke-width="1.0"/>
<line x1="154.9" y1="470.3" x2="154.9" y2="472.3" stroke="#333" stroke-width="1.0"/>
<line x1="167.5" y1="470.3" x2="167.5" y2="473.3" stroke="#333" stroke-width="1.0"/>
<line x1="180.1" y1="470.3" x2="180.1" y2="472.3" stroke="#333" stroke-width="1.0"/>
<line x1="192.7" y1="470.3" x2="192.7" y2="472.3" stroke="#333" stroke-width="1.0"/>
<line x1="205.3" y1="470.3" x2="205.3" y2="472.3" stroke="#333" stroke-width="1.0"/>
<line x1="217.9" y1="470.3" x2="217.9" y2="472.3" stroke="#333" stroke-width="1.0"/>
<line x1="230.5" y1="470.3" x2="230.5" y2="473.3" stroke="#333" stroke-width="1.0"/>
<line x1="243.1" y1="470.3" x2="243.1" y2="472.3" stroke="#333" stroke-width="1.0"/>
<line x1="255.7" y1="470.3" x2="255.7" y2="472.3" stroke="#333" stroke-width="1.0"/>
<line x1="268.3" y1="470.3" x2="268.3" y2="472.3" stroke="#333" stroke-width="1.0"/>
<line x1="280.9" y1="470.3" x2="280.9" y2="472.3" stroke="#333" stroke-width="1.0"/>
<line x1="293.5" y1="470.3" x2="293.5" y2="473.3" stroke="#333" stroke-width="1.0"/>
<line x1="306.1" y1="470.3" x2="306.1" y2="472.3" stroke="#333" stroke-width="1.0"/>
<line x1="318.7" y1="470.3" x2="318.7" y2="472.3" stroke="#333" stroke-width="1.0"/>
<line x1="331.3" y1="470.3" x2="331.3" y2="472.3" stroke="#333" stroke-width="1.0"/>
<line x1="343.9" y1="470.3" x2="343.9" y2="472.3" stroke="#333" stroke-width="1.0"/>
<line x1="356.5" y1="470.3" x2="356.5" y2="473.3" stroke="#333" stroke-width="1.0"/>
<line x1="369.1" y1="470.3" x2="369.1" y2="472.3" stroke="#333" stroke-width="1.0"/>
<line x1="381.7" y1="470.3" x2="381.7" y2="472.3" stroke="#333" stroke-width="1.0"/>
<line x1="394.3" y1="470.3" x2="394.3" y2="472.3" stroke="#333" stroke-width="1.0"/>
<line x1="406.9" y1="470.3" x2="406.9" y2="472.3" stroke="#333" stroke-width="1.0"/>
<line x1="419.5" y1="470.3" x2="419.5" y2="473.3" stroke="#333" stroke-width="1.0"/>
<line x1="432.1" y1="470.3" x2="432.1" y2="472.3" stroke="#333" stroke-width="1.0"/>
<line x1="444.7" y1="470.3" x2="444.7" y2="472.3" stroke="#333" stroke-width="1.0"/>
<line x1="457.3" y1="470.3" x2="457.3" y2="472.3" stroke="#333" stroke-width="1.0"/>
<line x1="469.9" y1="470.3" x2="469.9" y2="472.3" stroke="#333" stroke-width="1.0"/>
<line x1="482.5" y1="470.3" x2="482.5" y2="473.3" stroke="#333" stroke-width="1.0"/>
<line x1="495.1" y1="470.3" x2="495.1" y2="472.3" stroke="#333" stroke-width="1.0"/>
<line x1="507.7" y1="470.3" x2="507.7" y2="472.3" stroke="#333" stroke-width="1.0"/>
<line x1="520.3" y1="470.3" x2="520.3" y2="472.3" stroke="#333" stroke-width="1.0"/>
<line x1="532.9" y1="470.3" x2="532.9" y2="472.3" stroke="#333" stroke-width="1.0"/>
<text x="104.5" y="485.8" font-family="&quot;Liberation Serif&quot;, sans-serif" font-size="10.2" font-weight="normal" text-anchor="middle" fill="#3a3a3a" stroke="#3a3a3a" stroke-width="0.2" >5</text>
<text x="167.5" y="485.8" font-family="&quot;Liberation Serif&quot;, sans-serif" font-size="10.2" font-weight="normal" text-anchor="middle" fill="#3a3a3a" stroke="#3a3a3a" stroke-width="0.2" >10</text>
<text x="230.5" y="485.8" font-family="&quot;Liberation Serif&quot;, sans-serif" font-size="10.2" font-weight="normal" text-anchor="middle" fill="#3a3a3a" stroke="#3a3a3a" stroke-width="0.2" >15</text>
<text x="293.5" y="485.8" font-family="&quot;Liberation Serif&quot;, sans-serif" font-size="10.2" font-weight="normal" text-anchor="middle" fill="#3a3a3a" stroke="#3a3a3a" stroke-width="0.2" >20</text>
<text x="356.5" y="485.8" font-family="&quot;Liberation Serif&quot;, sans-serif" font-size="10.2" font-weight="normal" text-anchor="middle" fill="#3a3a3a" stroke="#3a3a3a" stroke-width="0.2" >25</text>
<text x="419.5" y="485.8" font-family="&quot;Liberation Sans&quot;, sans-serif" font-size="10" font-weight="normal" text-anchor="middle" fill="#3a3a3a" stroke="#3a3a3a" stroke-width="0.2" >30</text>
<text x="482.5" y="485.8" font-family="&quot;Liberation Sans&quot;, sans-serif" font-size="10" font-weight="normal" text-anchor="middle" fill="#3a3a3a" stroke="#3a3a3a" stroke-width="0.2" >35</text>
<text x="541.8" y="485.8" font-family="&quot;Liberation Sans&quot;, sans-serif" font-size="10" font-weight="normal" text-anchor="middle" fill="#3a3a3a" stroke="#3a3a3a" stroke-width="0.2" >40</text>
<text x="6.3" y="327.8" font-family="&quot;Liberation Sans&quot;, sans-serif" font-size="10" font-weight="normal" text-anchor="start" fill="#3a3a3a" stroke="#3a3a3a" stroke-width="0.2" textLength="31.4" lengthAdjust="spacingAndGlyphs">Intens.</text>
<text x="8.2" y="347.1" font-family="&quot;Liberation Sans&quot;, sans-serif" font-size="10" font-weight="normal" text-anchor="start" fill="#3a3a3a" stroke="#3a3a3a" stroke-width="0.2" >×</text>
<text x="17.3" y="347.1" font-family="&quot;Liberation Sans&quot;, sans-serif" font-size="10" font-weight="normal" text-anchor="start" fill="#3a3a3a" stroke="#3a3a3a" stroke-width="0.2" letter-spacing="-0.3">10</text>
<text x="28.6" y="341.4" font-family="&quot;Liberation Sans&quot;, sans-serif" font-size="10" font-weight="normal" text-anchor="start" fill="#3a3a3a" stroke="#3a3a3a" stroke-width="0.2" >8</text>
<text x="78.1" y="341.3" font-family="&quot;Liberation Sans&quot;, sans-serif" font-size="14" font-weight="bold" text-anchor="middle" fill="#111" stroke="#111" stroke-width="0.2" >(C)</text>
<path d="M40.8 462.5 L44.5 463 L46.6 466.4 L56.8 466.3 L57.5 467.2 L75.2 467.2 L76.25 460.5 L77.4 444.1 L78.6 424.8 L79.7 409.9 L80.7 401 L81.3 403.2 L81.9 408.4 L83.1 417.3 L84.6 430.7 L86.4 444.1 L88.2 453 L89.3 456 L90.8 453 L92.3 449.3 L94.6 447.1 L96.5 446.3 L97.5 445.6 L98.3 442.6 L99 446.3 L100.5 453.8 L102 453.8 L103.5 455.3 L105.7 458.2 L106.8 459.8 L108.4 458.01 L110 456.5 L111.8 454.77 L113.6 453.6 L114.97 454.42 L116.33 454.66 L117.7 455.7 L119.07 455.03 L120.43 454.19 L121.8 453.6 L123.17 452.58 L124.53 452.27 L125.9 451.6 L127.25 449.18 L128.6 447.5 L130.3 448.35 L132 449.3 L133.4 450.46 L134.8 452.3 L136.5 449.92 L138.2 448.2 L139.9 450.54 L141.6 453 L143.3 452.21 L145 450.9 L146.7 450.25 L148.4 450.2 L150.1 450.33 L151.8 450.9 L153.2 451.7 L154.6 452.3 L155.95 450.26 L157.3 447.5 L158.65 445.16 L160 442.7 L161.4 444.02 L162.8 445.5 L164.13 446.31 L165.47 446 L166.8 446.8 L168.2 445.04 L169.6 442.7 L170.95 439.83 L172.3 437.3 L173.5 432 L174.5 420 L175.5 395 L176.3 362 L176.9 343.3 L177.5 355 L178.5 380 L179.6 405 L181 425 L182.1 430.2 L184 435 L186.4 431.4 L188.8 435 L190.6 437.12 L192.4 439.8 L194.2 441.24 L196 443.3 L197.75 441.4 L199.5 439.8 L201.2 432.6 L203.1 432.6 L204.3 437.4 L206.7 439.8 L208.45 440.05 L210.2 439.8 L212.6 430 L213.5 405 L214.3 380 L215.2 372.2 L216 373.5 L217 376 L218 378 L219.2 392 L220.5 406 L222.1 420.7 L224.5 435 L226.5 439 L228.6 444.8 L230.35 443.34 L232.1 442.4 L234.5 444.8 L236.3 442.47 L238.1 440 L240.5 441.2 L243.6 431.7 L245.2 436.4 L247.6 442.4 L250 441.2 L252.4 437.6 L253.8 435.11 L255.2 432.4 L256.75 436.1 L258.3 440 L260.1 441.84 L261.9 443.6 L263.7 442.65 L265.5 442.4 L267.25 438.45 L269 435.2 L271 413.8 L272.6 404.3 L274.3 416.2 L276.2 435.2 L278.6 441.2 L280.35 438.56 L282.1 436.4 L283.9 437.74 L285.7 438.8 L287.5 439.94 L289.3 441.2 L290.87 441.45 L292.43 442.07 L294 442.4 L295.6 443.16 L297.2 443.84 L298.8 444.8 L300.2 444.8 L302.1 443.09 L304 440.9 L305.95 437.86 L307.9 434.5 L309.2 436 L310.5 437.96 L311.8 439.6 L313.7 441.57 L315.6 443.5 L317.55 442.5 L319.5 440.9 L321.45 443.03 L323.4 444.8 L325.3 443.98 L327.2 443.5 L330.6 433.2 L333.2 408.7 L335.8 428 L338.3 440.9 L340.9 443.3 L342.7 445 L344.5 444.1 L346.3 438.8 L348 430.8 L349.8 438.8 L351.6 444.1 L352.95 444.93 L354.3 445 L356.1 444.1 L357.9 445.5 L359.3 443.3 L360 440 L361.1 406.6 L361.8 372.7 L362.7 370.4 L363.8 379.9 L364.6 397.7 L365.9 413.8 L367.1 428 L368.6 437 L370.4 443.3 L371.7 444.44 L373 446.2 L375.4 446.6 L377.7 447.8 L379.5 446.6 L381.9 448.4 L384.2 449 L386.6 447.8 L389 445.8 L391 447.8 L392.5 444.8 L394.3 441.9 L396.1 446 L397.8 449 L399.6 451.9 L402 451.3 L404.3 452.5 L406.7 451 L408.5 450.5 L410.8 449 L412 449.6 L414.4 453.1 L416.15 453.63 L417.9 454.3 L419.7 455.21 L421.5 455.7 L422.7 455.6 L424.9 456.5 L427.1 455.4 L428.2 452.1 L429 447.8 L429.8 436.8 L430.9 429.7 L431.8 429.2 L432.9 432.5 L433.6 439 L434.4 447.8 L435.8 449.9 L437.5 451.6 L439.7 455.4 L441.8 458.1 L442.9 456.5 L444 447.8 L445.1 436.8 L446.2 428.1 L447.1 428.6 L447.8 436.8 L448.9 445.6 L450.6 451 L451.7 454.8 L453.3 449.9 L454.7 447.2 L456 449.9 L457.7 454.3 L459.8 459.2 L461.5 454.3 L463.4 447.2 L464.8 449.9 L466.4 456.5 L468.6 460.9 L470.5 458 L472.4 453.6 L474.7 459.3 L477.9 451.3 L480.1 442.6 L482 449 L483.8 455.9 L485.15 457.92 L486.5 460.5 L488.03 460.62 L489.57 460.4 L491.1 460.9 L492.63 461.27 L494.17 461.58 L495.7 461.6 L497.4 461.11 L499.1 460.5 L500.63 461.53 L502.17 461.82 L503.7 462.7 L505.2 463.02 L506.7 463.11 L508.2 463.2 L509.62 463.44 L511.05 463.51 L512.48 464 L513.9 463.9 L515.33 464.43 L516.75 464.23 L518.17 464.56 L519.6 464.6 L521.13 463.25 L522.67 462.76 L524.2 461.6 L525.9 463.22 L527.6 464.6 L528.93 465.06 L530.27 464.99 L531.6 464.63 L532.93 464.78 L534.27 465.07 L535.6 465 L537.9 455.9 L539.5 439.9 L540.9 438.8 L542.5 446.8 L544.1 464.6" fill="none" stroke="#2e2e2e" stroke-width="1.3" stroke-linejoin="round" />
<line x1="120.6" y1="451.4" x2="109.93" y2="430.54" stroke="#383838" stroke-width="1.5"/>
<path d="M107.2 425.2 L113.59 429.79 L107.18 433.07 Z" fill="#111"/>
<line x1="151" y1="449" x2="138.72" y2="429.66" stroke="#383838" stroke-width="1.5"/>
<path d="M135.5 424.6 L142.29 428.58 L136.21 432.44 Z" fill="#111"/>
<line x1="158.7" y1="444" x2="147.78" y2="423.12" stroke="#383838" stroke-width="1.5"/>
<path d="M145 417.8 L151.43 422.33 L145.05 425.67 Z" fill="#111"/>
<line x1="162.3" y1="440.7" x2="162.3" y2="414.9" stroke="#383838" stroke-width="1.5"/>
<path d="M162.3 408.9 L165.9 415.9 L158.7 415.9 Z" fill="#111"/>
<line x1="171.3" y1="377.6" x2="157.41" y2="362.16" stroke="#383838" stroke-width="1.5"/>
<path d="M153.4 357.7 L160.76 360.5 L155.4 365.31 Z" fill="#111"/>
<line x1="191.2" y1="432.7" x2="191.2" y2="408" stroke="#383838" stroke-width="1.5"/>
<path d="M191.2 402 L194.8 409 L187.6 409 Z" fill="#111"/>
<line x1="201.9" y1="428" x2="201.9" y2="362.2" stroke="#383838" stroke-width="1.5"/>
<path d="M201.9 356.2 L205.5 363.2 L198.3 363.2 Z" fill="#111"/>
<line x1="206" y1="435.7" x2="206" y2="371.7" stroke="#383838" stroke-width="1.5"/>
<path d="M206 365.7 L209.6 372.7 L202.4 372.7 Z" fill="#111"/>
<line x1="220.4" y1="374.6" x2="228.52" y2="354.85" stroke="#383838" stroke-width="1.5"/>
<path d="M230.8 349.3 L231.47 357.14 L224.81 354.41 Z" fill="#111"/>
<line x1="235.2" y1="437.6" x2="235.59" y2="415.5" stroke="#383838" stroke-width="1.5"/>
<path d="M235.7 409.5 L239.17 416.56 L231.98 416.43 Z" fill="#111"/>
<line x1="244.5" y1="430" x2="244.5" y2="380.5" stroke="#383838" stroke-width="1.5"/>
<path d="M244.5 374.5 L248.1 381.5 L240.9 381.5 Z" fill="#111"/>
<line x1="255.2" y1="429.3" x2="255.2" y2="407.4" stroke="#383838" stroke-width="1.5"/>
<path d="M255.2 401.4 L258.8 408.4 L251.6 408.4 Z" fill="#111"/>
<line x1="272.1" y1="399.5" x2="272.1" y2="378.1" stroke="#383838" stroke-width="1.5"/>
<path d="M272.1 372.1 L275.7 379.1 L268.5 379.1 Z" fill="#111"/>
<line x1="306.6" y1="434.5" x2="306.6" y2="412.1" stroke="#383838" stroke-width="1.5"/>
<path d="M306.6 406.1 L310.2 413.1 L303 413.1 Z" fill="#111"/>
<line x1="332.4" y1="404.8" x2="332.4" y2="382.4" stroke="#383838" stroke-width="1.5"/>
<path d="M332.4 376.4 L336 383.4 L328.8 383.4 Z" fill="#111"/>
<line x1="367.2" y1="380.3" x2="380.83" y2="364.89" stroke="#383838" stroke-width="1.5"/>
<path d="M384.8 360.4 L382.86 368.03 L377.47 363.26 Z" fill="#111"/>
<line x1="393.9" y1="438.3" x2="393.9" y2="417.1" stroke="#383838" stroke-width="1.5"/>
<path d="M393.9 411.1 L397.5 418.1 L390.3 418.1 Z" fill="#111"/>
<line x1="429.2" y1="427.8" x2="419.38" y2="408.17" stroke="#383838" stroke-width="1.5"/>
<path d="M416.7 402.8 L423.05 407.45 L416.61 410.67 Z" fill="#111"/>
<line x1="447.2" y1="423" x2="447.2" y2="402.7" stroke="#383838" stroke-width="1.5"/>
<path d="M447.2 396.7 L450.8 403.7 L443.6 403.7 Z" fill="#111"/>
<line x1="456.4" y1="444.5" x2="456.4" y2="419.5" stroke="#383838" stroke-width="1.5"/>
<path d="M456.4 413.5 L460 420.5 L452.8 420.5 Z" fill="#111"/>
<line x1="479.7" y1="438.8" x2="482.34" y2="417.95" stroke="#383838" stroke-width="1.5"/>
<path d="M483.1 412 L485.79 419.4 L478.65 418.49 Z" fill="#111"/>
<line x1="534.9" y1="447.9" x2="525.65" y2="423.8" stroke="#383838" stroke-width="1.5"/>
<path d="M523.5 418.2 L529.37 423.45 L522.65 426.03 Z" fill="#111"/>
<text transform="translate(103.5 421) scale(1 1.07)" font-family="&quot;Liberation Serif&quot;, serif" font-size="14" font-weight="bold" text-anchor="middle" fill="#111" stroke="#111" stroke-width="0.3">1</text>
<text transform="translate(126.55 417.2) scale(1 1.07)" font-family="&quot;Liberation Serif&quot;, serif" font-size="14" font-weight="bold" text-anchor="middle" fill="#111" stroke="#111" stroke-width="0.3">2</text>
<text transform="translate(141.45 410) scale(1 1.07)" font-family="&quot;Liberation Serif&quot;, serif" font-size="14" font-weight="bold" text-anchor="middle" fill="#111" stroke="#111" stroke-width="0.3">3</text>
<text transform="translate(163.75 402.2) scale(1 1.07)" font-family="&quot;Liberation Serif&quot;, serif" font-size="14" font-weight="bold" text-anchor="middle" fill="#111" stroke="#111" stroke-width="0.3">4</text>
<text transform="translate(147.9 357) scale(1 1.07)" font-family="&quot;Liberation Serif&quot;, serif" font-size="14" font-weight="bold" text-anchor="middle" fill="#111" stroke="#111" stroke-width="0.3">5</text>
<text transform="translate(191.2 392.1) scale(1 1.07)" font-family="&quot;Liberation Serif&quot;, serif" font-size="14" font-weight="bold" text-anchor="middle" fill="#111" stroke="#111" stroke-width="0.3">6</text>
<text transform="translate(201.3 351.6) scale(1 1.07)" font-family="&quot;Liberation Serif&quot;, serif" font-size="14" font-weight="bold" text-anchor="middle" fill="#111" stroke="#111" stroke-width="0.3">7+8</text>
<text transform="translate(211.2 364.3) scale(1 1.07)" font-family="&quot;Liberation Serif&quot;, serif" font-size="14" font-weight="bold" text-anchor="middle" fill="#111" stroke="#111" stroke-width="0.3">9</text>
<text transform="translate(231.5 346.6) scale(1 1.07)" font-family="&quot;Liberation Serif&quot;, serif" font-size="14" font-weight="bold" text-anchor="middle" fill="#111" stroke="#111" stroke-width="0.3">10</text>
<text transform="translate(234.55 404.5) scale(1 1.07)" font-family="&quot;Liberation Serif&quot;, serif" font-size="14" font-weight="bold" text-anchor="middle" fill="#111" stroke="#111" stroke-width="0.3">11</text>
<text transform="translate(245.25 370) scale(1 1.07)" font-family="&quot;Liberation Serif&quot;, serif" font-size="14" font-weight="bold" text-anchor="middle" fill="#111" stroke="#111" stroke-width="0.3">12</text>
<text transform="translate(255.6 397.2) scale(1 1.07)" font-family="&quot;Liberation Serif&quot;, serif" font-size="14" font-weight="bold" text-anchor="middle" fill="#111" stroke="#111" stroke-width="0.3">13</text>
<text transform="translate(271.7 365.9) scale(1 1.07)" font-family="&quot;Liberation Serif&quot;, serif" font-size="14" font-weight="bold" text-anchor="middle" fill="#111" stroke="#111" stroke-width="0.3">14</text>
<text transform="translate(304.55 399.8) scale(1 1.07)" font-family="&quot;Liberation Serif&quot;, serif" font-size="14" font-weight="bold" text-anchor="middle" fill="#111" stroke="#111" stroke-width="0.3">15</text>
<text transform="translate(330.75 370.7) scale(1 1.07)" font-family="&quot;Liberation Serif&quot;, serif" font-size="14" font-weight="bold" text-anchor="middle" fill="#111" stroke="#111" stroke-width="0.3">16</text>
<text transform="translate(383.05 358) scale(1 1.07)" font-family="&quot;Liberation Serif&quot;, serif" font-size="14" font-weight="bold" text-anchor="middle" fill="#111" stroke="#111" stroke-width="0.3">17</text>
<text transform="translate(394.05 403) scale(1 1.07)" font-family="&quot;Liberation Serif&quot;, serif" font-size="14" font-weight="bold" text-anchor="middle" fill="#111" stroke="#111" stroke-width="0.3">18</text>
<text transform="translate(414.55 394.1) scale(1 1.07)" font-family="&quot;Liberation Serif&quot;, serif" font-size="14" font-weight="bold" text-anchor="middle" fill="#111" stroke="#111" stroke-width="0.3">19</text>
<text transform="translate(447.25 385.8) scale(1 1.07)" font-family="&quot;Liberation Serif&quot;, serif" font-size="14" font-weight="bold" text-anchor="middle" fill="#111" stroke="#111" stroke-width="0.3">20</text>
<text transform="translate(460.25 407) scale(1 1.07)" font-family="&quot;Liberation Serif&quot;, serif" font-size="14" font-weight="bold" text-anchor="middle" fill="#111" stroke="#111" stroke-width="0.3">21</text>
<text transform="translate(483.15 405.9) scale(1 1.07)" font-family="&quot;Liberation Serif&quot;, serif" font-size="14" font-weight="bold" text-anchor="middle" fill="#111" stroke="#111" stroke-width="0.3">22</text>
<text transform="translate(520.75 413.9) scale(1 1.07)" font-family="&quot;Liberation Serif&quot;, serif" font-size="14" font-weight="bold" text-anchor="middle" fill="#111" stroke="#111" stroke-width="0.3">23</text>
<text x="295.9" y="500.5" font-family="&quot;Liberation Serif&quot;, sans-serif" font-size="14.6" font-weight="bold" text-anchor="middle" fill="#111" stroke="#111" stroke-width="0.2" >Time (min)</text>
</svg>
</body></html>
